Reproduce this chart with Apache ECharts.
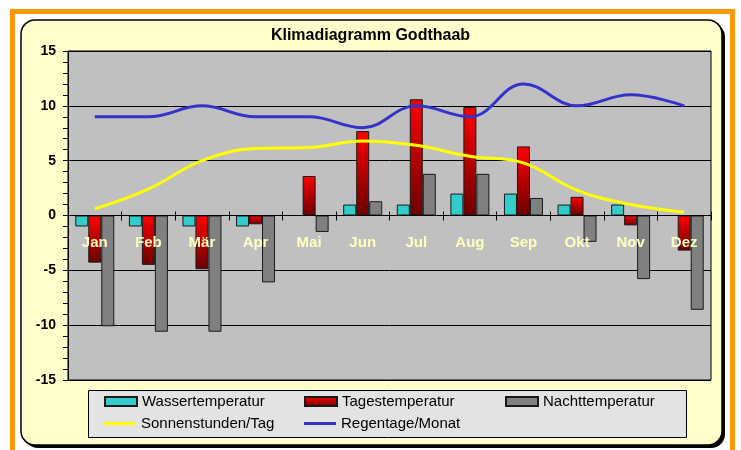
<!DOCTYPE html>
<html><head><meta charset="utf-8">
<script src="https://cdn.jsdelivr.net/npm/echarts@6/dist/echarts.min.js"></script>
<style>html,body{margin:0;padding:0;background:#fff}#c{width:741px;height:450px}</style>
</head><body><div id="c"></div>
<script>
const titleText = 'Klimadiagramm Godthaab';
const months = ['Jan','Feb','Mär','Apr','Mai','Jun','Jul','Aug','Sep','Okt','Nov','Dez'];
const wasser = [-1,-1,-1,-1,0,1,1,2,2,1,1,0];
const tages = [-4.3,-4.5,-4.9,-0.8,3.6,7.7,10.6,9.9,6.3,1.7,-0.9,-3.2];
const nacht = [-10.1,-10.6,-10.6,-6.1,-1.5,1.3,3.8,3.8,1.6,-2.4,-5.8,-8.6];
const sonne = [0.6,2.4,5.0,6.1,6.2,6.8,6.4,5.4,4.8,2.3,1.0,0.3];
const regen = [9,9,10,9,9,8,10,9,12,10,11,10];
const seriesNames = ['Wassertemperatur','Tagestemperatur','Nachttemperatur','Sonnenstunden/Tag','Regentage/Monat'];

const FONT = '"Liberation Sans", Arial, sans-serif';
const chart = echarts.init(document.getElementById('c'), null, {renderer:'canvas'});
const redGrad = new echarts.graphic.LinearGradient(0,0,0,1,[{offset:0,color:'#ff0000'},{offset:1,color:'#6a0000'}]);
const barBorder = {borderColor:'#1a1a1a', borderWidth:1};
const GRID_TOP = 51, GRID_H = 329;
const zeroOffset = -(GRID_H / 2);   // x axis sits at value 0 (middle of -15..15)

function legendAt(name, left, top, isLine){
  return {
    data:[{name:name, icon:'rect'}], left:left, top:top, padding:0, itemGap:0,
    itemWidth:32, itemHeight: isLine ? 3 : 9,
    itemStyle: isLine ? {borderWidth:0} : {},
    textStyle:{fontSize:15, color:'#000', fontFamily:FONT}
  };
}

const option = {
  animation:false,
  title:{text:titleText, left:'center', top:28, padding:0,
    textStyle:{fontSize:16, fontWeight:'bold', color:'#000', fontFamily:FONT}},
  graphic:[
    {type:'rect', silent:true, z:-100, shape:{x:12.5,y:11.5,width:720,height:500}, style:{fill:'#fff', stroke:'#ff9900', lineWidth:5}},
    {type:'rect', silent:true, z:-99, shape:{x:24,y:23,width:701,height:425,r:14}, style:{fill:'#000'}},
    {type:'rect', silent:true, z:-98, shape:{x:21,y:20,width:701,height:425,r:14}, style:{fill:'#ffffcc', stroke:'#000', lineWidth:1.5}},
    {type:'rect', silent:true, z:-97, shape:{x:88.5,y:390.5,width:598,height:47}, style:{fill:'#e3e3e3', stroke:'#000', lineWidth:1}}
  ],
  legend:[
    legendAt(seriesNames[0],104,394,false),
    legendAt(seriesNames[1],304,394,false),
    legendAt(seriesNames[2],505,394,false),
    legendAt(seriesNames[3],104,416,true),
    legendAt(seriesNames[4],304,416,true)
  ],
  grid:{left:68, top:GRID_TOP, right:30, height:GRID_H, show:true, backgroundColor:'#c0c0c0', borderColor:'#000', borderWidth:1},
  xAxis:[
    {type:'category', data:months, z:10, position:'bottom', offset:zeroOffset,
      axisLine:{onZero:false, lineStyle:{color:'#000', width:1}},
      axisTick:{show:true, length:5, lineStyle:{color:'#000'}},
      axisLabel:{color:'#ffffc0', fontWeight:'bold', fontSize:15, margin:20, fontFamily:FONT}},
    {type:'category', data:months, position:'bottom', offset:zeroOffset, z:10,
      axisLine:{show:false, onZero:false},
      axisTick:{show:true, inside:true, length:4, lineStyle:{color:'#000'}},
      axisLabel:{show:false}}
  ],
  yAxis:{type:'value', min:-15, max:15, interval:5,
    axisLine:{show:true, onZero:false, lineStyle:{color:'#000'}},
    axisTick:{show:true, length:5, lineStyle:{color:'#000'}},
    minorTick:{show:true, splitNumber:5, length:5, lineStyle:{color:'#000'}},
    splitLine:{show:true, lineStyle:{color:'#000', width:1}},
    axisLabel:{color:'#000', fontWeight:'bold', fontSize:14, margin:12, fontFamily:FONT}},
  series:[
    {name:seriesNames[0], type:'bar', data:wasser, barWidth:13, barGap:'0%', itemStyle:Object.assign({color:'#33cccc'}, barBorder)},
    {name:seriesNames[1], type:'bar', data:tages, barWidth:13, barGap:'0%', itemStyle:Object.assign({color:redGrad}, barBorder)},
    {name:seriesNames[2], type:'bar', data:nacht, barWidth:13, barGap:'0%', itemStyle:Object.assign({color:'#808080'}, barBorder)},
    {name:seriesNames[3], type:'line', data:sonne, smooth:0.4, symbol:'none', z:5,
      lineStyle:{color:'#ffff00', width:3}, itemStyle:{color:'#ffff00'}},
    {name:seriesNames[4], type:'line', data:regen, smooth:0.4, symbol:'none', z:5,
      lineStyle:{color:'#3333cc', width:3}, itemStyle:{color:'#3333cc'}}
  ]
};
chart.setOption(option);
</script>
</body></html>
